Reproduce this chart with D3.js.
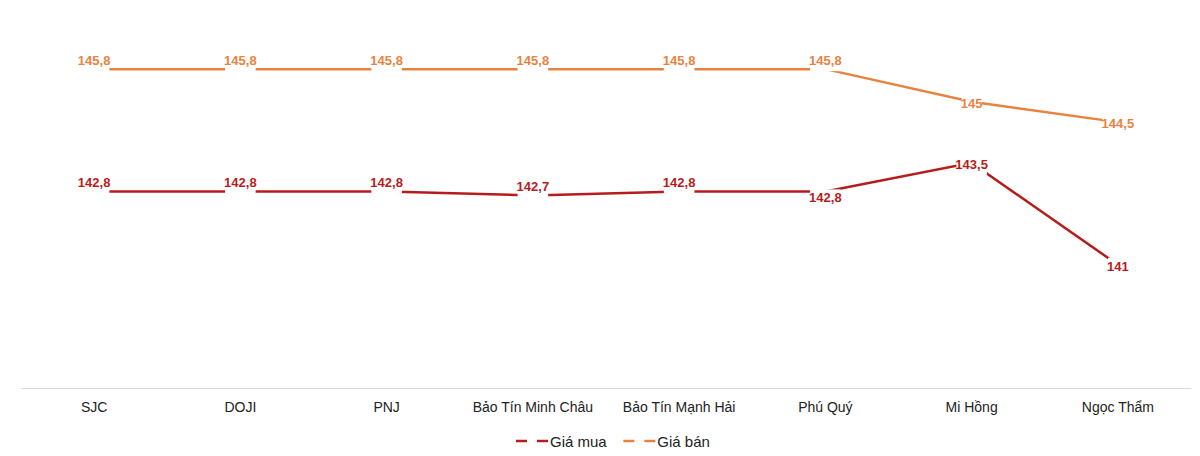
<!DOCTYPE html>
<html>
  <head>
  <meta charset="utf-8">
  <title>Giá vàng</title>
  <script src="https://cdn.jsdelivr.net/npm/d3@7"></script>
  <style type="text/css">
    body { margin: 0; background: #fff; }
    text { font-family: "Liberation Sans", Arial, sans-serif; }
  </style>
  </head>
  <body>
  </body>

  <script type="text/javascript">
    // data
    var categories = ["SJC", "DOJI", "PNJ", "Bảo Tín Minh Châu", "Bảo Tín Mạnh Hải", "Phú Quý", "Mi Hồng", "Ngọc Thẩm"];
    var giaMua = [142.8, 142.8, 142.8, 142.7, 142.8, 142.8, 143.5, 141];
    var giaBan = [145.8, 145.8, 145.8, 145.8, 145.8, 145.8, 145, 144.5];
    var seriesNames = ["Giá mua", "Giá bán"];

    // where each data label sits relative to its point
    var muaPlace = ["above", "above", "above", "above", "above", "below", "center", "center"];
    var banPlace = ["above", "above", "above", "above", "above", "above", "center", "center"];
    var placeDy = { above: -8.5, center: 1.5, below: 6.5 };

    var w = 1200, h = 456;
    var red = "#B71C1C", orange = "#E8833F";

    var svg = d3.select("body").append("svg")
      .attr("width", w)
      .attr("height", h);

    var x = d3.scaleBand().domain(categories).range([21, 1191]);
    var y = d3.scaleLinear().domain([138, 146]).range([387, 61]);
    var cx = function(i) { return x(categories[i]) + x.bandwidth() / 2; };

    // category axis
    var axisY = 388;
    var xAxis = svg.append("g")
      .attr("transform", "translate(0," + axisY + ")")
      .call(d3.axisBottom(x).tickSize(0).tickPadding(14));
    xAxis.select(".domain").attr("stroke", "#d9d9d9").attr("stroke-width", 1.2);
    xAxis.selectAll(".tick text")
      .attr("fill", "#222")
      .style("font-size", "14px")
      .style("font-family", "'Liberation Sans', Arial, sans-serif");

    var series = [
      { name: seriesNames[0], values: giaMua, place: muaPlace, color: red },
      { name: seriesNames[1], values: giaBan, place: banPlace, color: orange }
    ];

    var line = d3.line()
      .x(function(d, i) { return cx(i); })
      .y(function(d) { return y(d); });

    series.forEach(function(s) {
      svg.append("path")
        .datum(s.values)
        .attr("fill", "none")
        .attr("stroke", s.color)
        .attr("stroke-width", 2.5)
        .attr("d", line);
    });

    // data labels with white boxes over the lines
    series.forEach(function(s) {
      var g = svg.append("g");
      s.values.forEach(function(v, i) {
        var ty = y(v) + placeDy[s.place[i]];
        var lg = g.append("g");
        var t = lg.append("text")
          .attr("x", cx(i))
          .attr("y", ty)
          .attr("text-anchor", "middle")
          .attr("dominant-baseline", "central")
          .attr("fill", s.color)
          .style("font-size", "13px")
          .style("font-weight", "bold")
          .text(d3.format(".1~f")(v).replace(".", ","));
        var bb = t.node().getBBox();
        lg.insert("rect", "text")
          .attr("x", bb.x + 1)
          .attr("y", ty - 8.5)
          .attr("width", bb.width - 2)
          .attr("height", 19)
          .attr("fill", "#fff");
      });
    });

    // legend
    var legend = svg.append("g").attr("transform", "translate(0,441)");
    var lx = 516;
    series.forEach(function(s) {
      var item = legend.append("g").attr("transform", "translate(" + lx + ",0)");
      item.append("line").attr("x1", 0).attr("x2", 11).attr("stroke", s.color).attr("stroke-width", 2.5);
      item.append("line").attr("x1", 21).attr("x2", 32).attr("stroke", s.color).attr("stroke-width", 2.5);
      var t = item.append("text")
        .attr("x", 34)
        .attr("dominant-baseline", "central")
        .attr("fill", "#222")
        .style("font-size", "15px")
        .text(s.name);
      lx += 34 + t.node().getBBox().width + 16;
    });
  </script>
</html>
